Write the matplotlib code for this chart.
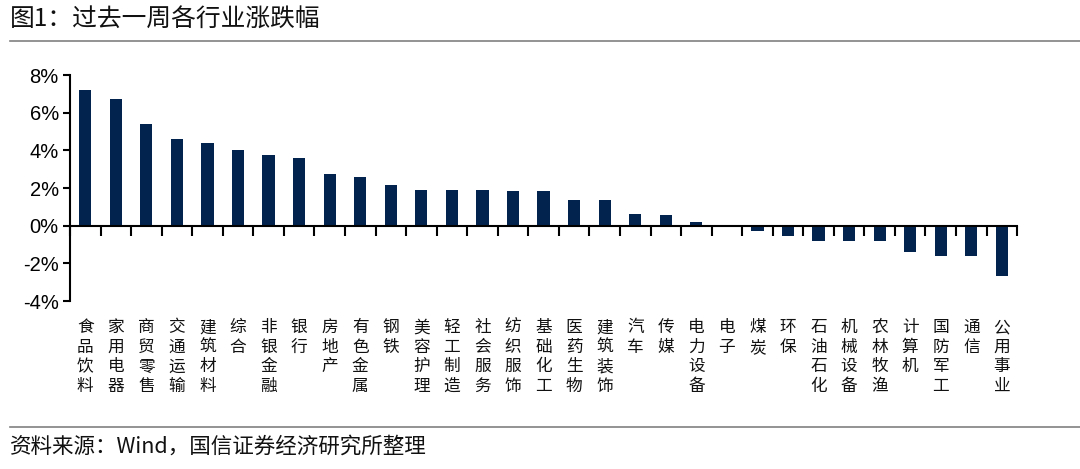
import numpy as np
import matplotlib.pyplot as plt
from matplotlib.lines import Line2D
import matplotlib.transforms as mtransforms

plt.rcParams['font.family'] = ['Noto Sans CJK SC', 'DejaVu Sans']

industries = ["食品饮料", "家用电器", "商贸零售", "交通运输", "建筑材料", "综合", "非银金融",
              "银行", "房地产", "有色金属", "钢铁", "美容护理", "轻工制造", "社会服务",
              "纺织服饰", "基础化工", "医药生物", "建筑装饰", "汽车", "传媒", "电力设备",
              "电子", "煤炭", "环保", "石油石化", "机械设备", "农林牧渔", "计算机",
              "国防军工", "通信", "公用事业"]
changes = [7.21, 6.74, 5.41, 4.62, 4.40, 4.03, 3.77, 3.61, 2.76, 2.60, 2.17, 1.92, 1.91,
           1.90, 1.86, 1.85, 1.38, 1.38, 0.65, 0.55, 0.20, 0.0, -0.30, -0.56, -0.79,
           -0.79, -0.83, -1.38, -1.62, -1.62, -2.67]
yticks = [-4, -2, 0, 2, 4, 6, 8]

title = "图1：过去一周各行业涨跌幅"
source = "资料来源：Wind，国信证券经济研究所整理"

fig = plt.figure(figsize=(10.8, 4.69), dpi=100)
ax = fig.add_axes([0.0648, 0.358, 0.877, 0.482])

x = np.arange(len(industries))
ax.bar(x, changes, width=0.4, color="#03234f")

ax.set_xlim(-0.5, len(industries) - 0.5)
ax.set_ylim(-4, 8)
ax.set_yticks(yticks)
ax.set_yticklabels([f"{v}%" for v in yticks], fontfamily="Liberation Sans", fontsize=14.5)
ax.tick_params(axis="y", direction="out", length=5, width=1.5, pad=3)

ax.spines["top"].set_visible(False)
ax.spines["right"].set_visible(False)
ax.spines["left"].set_linewidth(1.5)
ax.spines["bottom"].set_position(("data", 0))
ax.spines["bottom"].set_linewidth(1.5)
ax.set_xticks(np.arange(len(industries) + 1) - 0.5)
ax.set_xticklabels([])
ax.tick_params(axis="x", direction="out", length=7, width=1.5)

# vertical category labels under the plot
trans = mtransforms.blended_transform_factory(ax.transData, ax.transAxes)
for i, name in enumerate(industries):
    ax.text(i, -0.08, "\n".join(name), transform=trans, ha="center", va="top",
            fontsize=12, linespacing=1.2, color="#111111")

# header and footer
fig.text(0.009, 0.957, title, fontsize=17.8, va="center", ha="left", color="#111111")
fig.add_artist(Line2D([0.009, 1.0], [0.912, 0.912], color="#808080", lw=1.2,
                      transform=fig.transFigure))
fig.add_artist(Line2D([0.009, 1.0], [0.09, 0.09], color="#808080", lw=1.2,
                      transform=fig.transFigure))
fig.text(0.009, 0.047, source, fontsize=15.5, va="center", ha="left", color="#111111")

fig.savefig("out.png", dpi=100)
